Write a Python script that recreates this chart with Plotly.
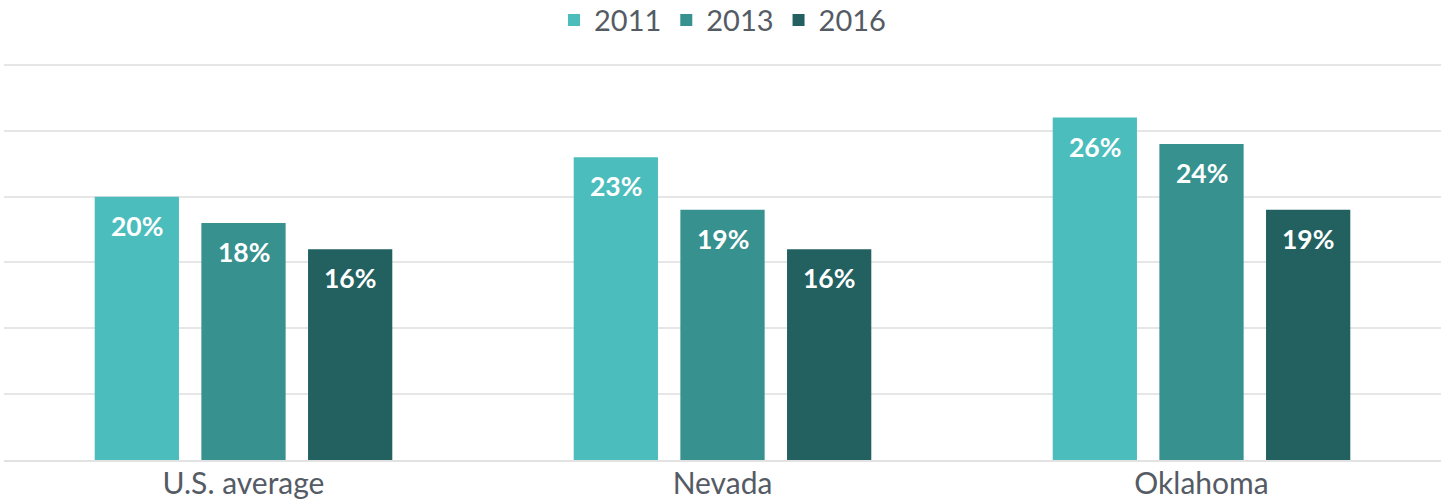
import plotly.graph_objects as go

categories = ["U.S. average", "Nevada", "Oklahoma"]
years = ["2011", "2013", "2016"]
values_2011 = [20, 23, 26]
values_2013 = [18, 19, 24]
values_2016 = [16, 16, 19]
series = [values_2011, values_2013, values_2016]
colors = ["#4bbdbd", "#36918f", "#226160"]

bargap = 0.332
bargroupgap = 0.21
font = "Lato, 'Open Sans', sans-serif"

fig = go.Figure()
for name, vals, col in zip(years, series, colors):
    fig.add_trace(go.Bar(x=list(range(len(categories))), y=vals, name=name,
                         marker=dict(color=col, line=dict(width=0)),
                         hoverinfo="skip"))

slot = (1 - bargap) / 3
annotations = []
for j, vals in enumerate(series):
    for i, v in enumerate(vals):
        annotations.append(dict(x=i + (j - 1) * slot, y=v, xref="x", yref="y",
                                text=f"<b>{v}%</b>", showarrow=False,
                                yanchor="middle", yshift=-29,
                                font=dict(family=font, size=26.5, color="white")))

fig.update_layout(
    width=1447, height=502,
    barmode="group", bargap=bargap, bargroupgap=bargroupgap,
    plot_bgcolor="white", paper_bgcolor="white",
    margin=dict(l=4, r=6, t=61, b=42, autoexpand=False),
    font=dict(family=font, color="#555b65"),
    legend=dict(orientation="h", x=0.5, xanchor="center", y=0.96, yanchor="middle",
                yref="container", font=dict(size=29, color="#555b65"),
                itemwidth=30, traceorder="normal"),
    annotations=annotations,
    xaxis=dict(tickmode="array", tickvals=list(range(len(categories))),
               ticktext=categories, range=[-0.5, 2.5], automargin=False,
               tickfont=dict(size=30, color="#555b65"), showgrid=False,
               ticklabelstandoff=-4,
               showline=True, linecolor="#e2e2e2", linewidth=2, ticks="", ticklen=0),
    yaxis=dict(range=[0, 30.3], tickvals=[5, 10, 15, 20, 25, 30], showticklabels=False,
               showgrid=True, automargin=False,
               gridcolor="#e6e6e6", gridwidth=2, zeroline=False),
)

fig.write_html("out.html", config={"displayModeBar": False},
               post_script="document.body.style.margin='0';")
